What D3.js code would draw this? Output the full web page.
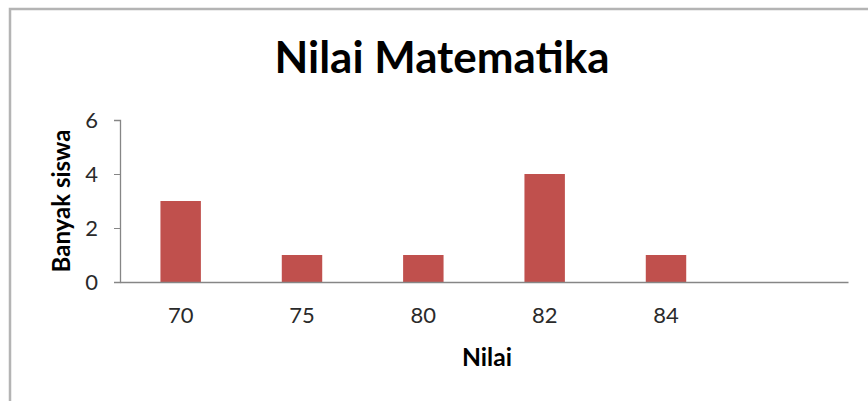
<!DOCTYPE html>
<html>
<head>
<meta charset="utf-8">
<script src="https://cdn.jsdelivr.net/npm/d3@7/dist/d3.min.js"></script>
<style>
  body { margin: 0; background: #fff; }
  text { font-family: Lato, "Open Sans", sans-serif; }
</style>
</head>
<body>
<div id="chart"></div>
<script>
var chartTitle = "Nilai Matematika";
var xTitle = "Nilai";
var yTitle = "Banyak siswa";
// categories (the last slot is empty in the original chart)
var nilai = ["70", "75", "80", "82", "84", ""];
var banyakSiswa = [3, 1, 1, 4, 1, null];
var yTicks = [0, 2, 4, 6];

var W = 868, H = 401;
var margin = { top: 120, right: 20, bottom: 119, left: 120 },
    width = 848 - margin.left,
    height = 282 - margin.top;

var svg = d3.select("#chart").append("svg")
    .attr("width", W)
    .attr("height", H);

// chart area border (cut off at right and bottom)
svg.append("rect")
    .attr("x", 10).attr("y", 9)
    .attr("width", W + 20).attr("height", H + 20)
    .attr("fill", "none")
    .attr("stroke", "#b4b4b4")
    .attr("stroke-width", 2.5);

var g = svg.append("g")
    .attr("transform", "translate(" + margin.left + "," + margin.top + ")");

var x = d3.scaleBand()
    .domain(d3.range(nilai.length))
    .range([0, width])
    .paddingInner(2 / 3)
    .paddingOuter(1 / 3);

var y = d3.scaleLinear()
    .domain([0, 6])
    .range([height, 0]);

// bars
g.selectAll(".bar")
    .data(banyakSiswa.map(function (d, i) { return { i: i, v: d }; })
      .filter(function (d) { return d.v != null; }))
  .enter().append("rect")
    .attr("class", "bar")
    .attr("x", function (d) { return x(d.i); })
    .attr("y", function (d) { return y(d.v); })
    .attr("width", x.bandwidth())
    .attr("height", function (d) { return height - y(d.v); })
    .attr("fill", "#c0504d");

// y axis
var yAxis = g.append("g")
    .call(d3.axisLeft(y).tickValues(yTicks).tickFormat(d3.format("d"))
      .tickSize(6).tickPadding(16));
yAxis.select(".domain").attr("stroke", "#868686").attr("stroke-width", 1.3);
yAxis.selectAll(".tick line").attr("stroke", "#868686");
yAxis.selectAll(".tick text")
    .attr("fill", "#2a2a2a")
    .style("font-size", "22px")
    .attr("dy", "0.35em");

// x axis (no ticks)
var xAxis = g.append("g")
    .attr("transform", "translate(0," + height + ")")
    .call(d3.axisBottom(x).tickSize(0).tickPadding(25)
      .tickFormat(function (d) { return nilai[d]; }));
xAxis.select(".domain").attr("stroke", "#868686").attr("stroke-width", 1.3);
xAxis.selectAll(".tick text")
    .attr("fill", "#2a2a2a")
    .style("font-size", "22px");

// fit a text to a given width
function fitText(sel, target) {
  var len = sel.node().getComputedTextLength();
  var fs = parseFloat(sel.style("font-size"));
  sel.style("font-size", (fs * target / len) + "px");
}

var title = svg.append("text")
    .attr("x", 442)
    .attr("y", 73)
    .attr("text-anchor", "middle")
    .style("font-weight", "bold")
    .style("font-size", "40px")
    .attr("fill", "#000")
    .text(chartTitle);
fitText(title, 335);

var xt = svg.append("text")
    .attr("x", 487)
    .attr("y", 366)
    .attr("text-anchor", "middle")
    .style("font-weight", "bold")
    .style("font-size", "18px")
    .attr("fill", "#000")
    .text(xTitle);
fitText(xt, 50);

var yt = svg.append("text")
    .attr("transform", "translate(70,201) rotate(-90)")
    .attr("text-anchor", "middle")
    .style("font-weight", "bold")
    .style("font-size", "18px")
    .attr("fill", "#000")
    .text(yTitle);
fitText(yt, 143);
</script>
</body>
</html>
